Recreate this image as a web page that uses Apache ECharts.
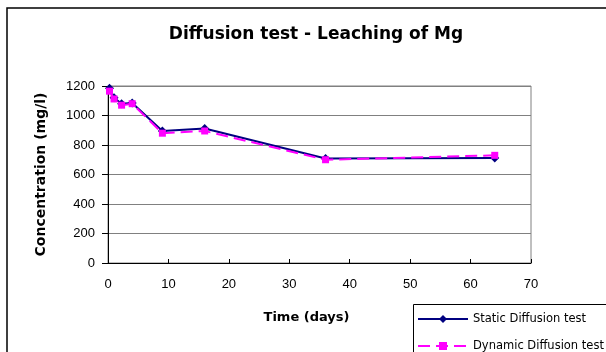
<!DOCTYPE html>
<html>
<head>
<meta charset="utf-8">
<script src="https://cdn.jsdelivr.net/npm/echarts@6/dist/echarts.min.js"></script>
<style>
  html, body { margin: 0; padding: 0; background: #fff; }
  #chart { width: 606px; height: 352px; }
</style>
</head>
<body>
<div id="chart"></div>
<script>
// Sampling times (days) of the tank leaching test
const days = [0.25, 1, 2.25, 4, 9, 16, 36, 64];
// Mg concentration (mg/l)
const staticDiffusion = [1185, 1120, 1080, 1085, 895, 912, 708, 712];
const dynamicDiffusion = [1165, 1112, 1070, 1080, 880, 895, 700, 730];
const xTicks = [0, 10, 20, 30, 40, 50, 60, 70];
const yTicks = [0, 200, 400, 600, 800, 1000, 1200];

const pairs = (xs, ys) => xs.map((x, i) => [x, ys[i]]);
const font = 'Liberation Sans, Arial, sans-serif';
const wide = 'DejaVu Sans, sans-serif';

const chart = echarts.init(document.getElementById('chart'));
chart.setOption({
  animation: false,
  backgroundColor: '#fff',
  title: {
    text: 'Diffusion test - Leaching of Mg',
    left: 311, top: 21, textAlign: 'center',
    textStyle: { fontFamily: wide, fontSize: 17, fontWeight: 'bold', color: '#000' }
  },
  graphic: [
    { // chart frame
      type: 'rect', shape: { x: 7, y: 8, width: 640, height: 380 },
      style: { fill: 'none', stroke: '#000', lineWidth: 1.5 }, z: 10
    },
    { // legend frame
      type: 'rect', shape: { x: 413.5, y: 304.5, width: 300, height: 100 },
      style: { fill: '#fff', stroke: '#000', lineWidth: 1 }, z: 1
    }
  ],
  grid: {
    left: 108, right: 75, top: 86, bottom: 89,
    show: true, borderColor: '#808080', borderWidth: 1
  },
  legend: {
    left: 417, top: 313, orient: 'vertical',
    padding: 0, itemGap: 15,
    itemWidth: 50, itemHeight: 10,
    textStyle: { fontFamily: wide, fontSize: 11.5, color: '#000' },
    z: 5,
    data: ['Static Diffusion test', 'Dynamic Diffusion test']
  },
  xAxis: {
    type: 'value', min: 0, max: 70, interval: 10,
    name: 'Time (days)', nameLocation: 'middle', nameGap: 48,
    nameTextStyle: { fontFamily: wide, fontSize: 13, fontWeight: 'bold', color: '#000',
      padding: [0, 26, 0, 0] },
    axisLine: { lineStyle: { color: '#000', width: 1 } },
    axisTick: { inside: true, length: 4, lineStyle: { color: '#000' } },
    axisLabel: { fontFamily: font, fontSize: 13, color: '#000', margin: 15,
      formatter: v => xTicks.includes(v) ? String(v) : '' },
    splitLine: { show: false }
  },
  yAxis: {
    type: 'value', min: 0, max: 1200, interval: 200,
    name: 'Concentration (mg/l)', nameLocation: 'middle', nameGap: 60,
    nameTextStyle: { fontFamily: wide, fontSize: 14, fontWeight: 'bold', color: '#000' },
    axisLine: { show: true, lineStyle: { color: '#000', width: 1 } },
    axisTick: { show: true, length: 6, lineStyle: { color: '#000' } },
    axisLabel: { fontFamily: font, fontSize: 13, color: '#000', margin: 13,
      formatter: v => yTicks.includes(v) ? String(v) : '' },
    splitLine: { show: true, lineStyle: { color: '#808080', width: 1 } }
  },
  series: [
    {
      name: 'Static Diffusion test', type: 'line',
      data: pairs(days, staticDiffusion),
      symbol: 'diamond', symbolSize: 9,
      lineStyle: { color: '#000080', width: 2 },
      itemStyle: { color: '#000080' },
      z: 3
    },
    {
      name: 'Dynamic Diffusion test', type: 'line',
      data: pairs(days, dynamicDiffusion),
      symbol: 'rect', symbolSize: 7,
      lineStyle: { color: '#FF00FF', width: 2, type: [12, 6] },
      itemStyle: { color: '#FF00FF' },
      z: 4
    }
  ]
});
</script>
</body>
</html>
